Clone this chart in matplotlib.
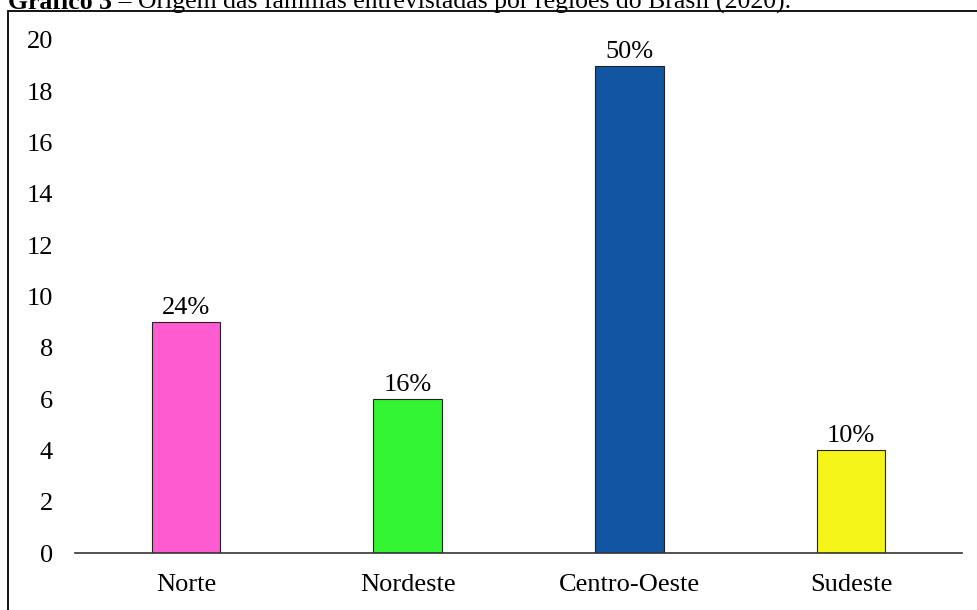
import matplotlib.pyplot as plt
from matplotlib.patches import Rectangle

plt.rcParams['font.family'] = ['Liberation Serif', 'DejaVu Serif']

# Data
regioes = ['Norte', 'Nordeste', 'Centro-Oeste', 'Sudeste']
familias = [9, 6, 19, 4]
percentuais = ['24%', '16%', '50%', '10%']
cores = ['#FF5CD2', '#33F533', '#1155A3', '#F5F519']

fig = plt.figure(figsize=(9.78, 6.1), dpi=100)
ax = fig.add_axes([75 / 978, 1 - 553 / 610, 887 / 978, 513 / 610])

x = range(len(regioes))
bars = ax.bar(x, familias, width=0.31, color=cores, edgecolor='#222222', linewidth=0.8)

for b, p in zip(bars, percentuais):
    ax.text(b.get_x() + b.get_width() / 2, b.get_height() + 0.12, p,
            ha='center', va='bottom', fontsize=19)

ax.set_xlim(-0.5, len(regioes) - 0.5)
ax.set_ylim(0, 20)
ax.set_yticks(range(0, 21, 2))
ax.set_xticks(list(x))
ax.set_xticklabels(regioes)
ax.tick_params(axis='both', length=0, labelsize=19)
ax.tick_params(axis='y', pad=16)
ax.tick_params(axis='x', pad=15)

for s in ['top', 'right', 'left']:
    ax.spines[s].set_visible(False)
ax.spines['bottom'].set_color('#333333')
ax.spines['bottom'].set_linewidth(1.2)

# outer frame (cut at the image edges)
frame = Rectangle((8 / 978, -0.1), 1.2, 1 - 11 / 610 + 0.1, transform=fig.transFigure,
                  fill=False, edgecolor='black', linewidth=1.3, clip_on=False)
fig.patches.append(frame)

# title, mostly cut off at the top as in the source
ty = 1 - 9 / 610
t1 = fig.text(8 / 978, ty, 'Gráfico 3', fontsize=18.5, fontweight='bold', va='baseline', ha='left')
fig.canvas.draw()
bb = t1.get_window_extent(fig.canvas.get_renderer())
fig.text(bb.x1 / fig.bbox.width, ty, ' – Origem das famílias entrevistadas por regiões do Brasil (2020).',
         fontsize=18.5, va='baseline', ha='left')

fig.savefig('out.png', dpi=100)
